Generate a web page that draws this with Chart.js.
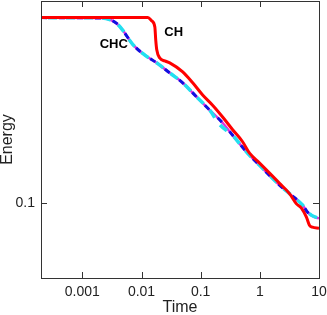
<!DOCTYPE html>
<html>
<head>
<meta charset="utf-8">
<script src="https://cdn.jsdelivr.net/npm/chart.js@4/dist/chart.umd.min.js"></script>
<style>
  html, body { margin: 0; padding: 0; background: #fff; }
  #wrap { width: 327px; height: 315px; }
</style>
</head>
<body>
<div id="wrap"><canvas id="grafico" width="327" height="315"></canvas></div>
<script>
// ---- datos ----
const tiempoCH = [0.0002, 0.0128, 0.0149, 0.0168, 0.0174, 0.0181, 0.0204, 0.0247, 0.030, 0.0497,
  0.0733, 0.108, 0.159, 0.235, 0.347, 0.511, 0.670, 0.99, 1.46, 2.15, 3.17, 4.16, 5.05, 6.13, 6.89, 7.74, 10];
const energiaCH = [0.565, 0.565, 0.548, 0.518, 0.458, 0.418, 0.387, 0.377, 0.370, 0.340,
  0.307, 0.274, 0.249, 0.223, 0.198, 0.177, 0.159, 0.145, 0.132, 0.120, 0.109, 0.099, 0.0952, 0.0874, 0.0811, 0.0796, 0.0789];

const tiempoCHC = [0.0002, 0.0021, 0.0029, 0.0038, 0.0048, 0.0071, 0.0114, 0.0181, 0.030, 0.0497, 0.0856,
  0.142, 0.235, 0.347, 0.511, 0.670, 0.99, 2.15, 3.17, 5.26, 6.37, 8.36, 10];
const energiaCHC = [0.565, 0.563, 0.555, 0.535, 0.503, 0.440, 0.398, 0.370, 0.337, 0.307, 0.269,
  0.238, 0.211, 0.188, 0.168, 0.156, 0.142, 0.118, 0.109, 0.098, 0.0917, 0.0874, 0.0866];

const tiempoCian = [0.0002, 0.0021, 0.0029, 0.0038, 0.0048, 0.0071, 0.0114, 0.0181, 0.030, 0.0497, 0.0856,
  0.142, 0.209, 0.347, 0.511, 0.670, 0.99, 2.15, 3.17, 5.26, 6.13, 7.4, 10];
const energiaCian = [0.565, 0.563, 0.555, 0.535, 0.503, 0.440, 0.398, 0.370, 0.337, 0.307, 0.269,
  0.238, 0.208, 0.188, 0.168, 0.156, 0.142, 0.118, 0.109, 0.098, 0.0934, 0.0891, 0.0866];

// etiquetas dentro del grafico
const etiquetas = ["CH", "CHC"];
const etiquetaTiempo = [0.035, 0.0034];
const etiquetaEnergia = [0.49, 0.438];

const xMin = 0.0002, xMax = 10;
const yMin = 0.0495, yMax = 0.66;

const puntos = (ts, es) => ts.map((t, i) => ({ x: t, y: es[i] }));
const esDecada = (v) => Math.abs(Math.log10(v) - Math.round(Math.log10(v))) < 1e-6;

// marco y marcas hacia adentro, en los cuatro lados
const marcoPlugin = {
  id: "marco",
  afterDraw(chart) {
    const { ctx, chartArea: a, scales } = chart;
    ctx.save();
    ctx.strokeStyle = "#333";
    ctx.lineWidth = 1;
    ctx.strokeRect(a.left + 0.5, a.top + 0.5, a.right - a.left, a.bottom - a.top);
    ctx.beginPath();
    scales.x.ticks.forEach((t) => {
      const px = Math.round(scales.x.getPixelForValue(t.value)) + 0.5;
      const len = esDecada(t.value) ? 6 : 3;
      ctx.moveTo(px, a.bottom); ctx.lineTo(px, a.bottom - len);
      ctx.moveTo(px, a.top); ctx.lineTo(px, a.top + len);
    });
    scales.y.ticks.forEach((t) => {
      const py = Math.round(scales.y.getPixelForValue(t.value)) + 0.5;
      const len = esDecada(t.value) ? 6 : 3;
      ctx.moveTo(a.left, py); ctx.lineTo(a.left + len, py);
      ctx.moveTo(a.right, py); ctx.lineTo(a.right - len, py);
    });
    ctx.stroke();

    ctx.fillStyle = "#000";
    ctx.font = "bold 13px 'Liberation Sans', Arial, sans-serif";
    ctx.textAlign = "center";
    ctx.textBaseline = "middle";
    etiquetas.forEach((txt, i) => {
      ctx.fillText(txt, scales.x.getPixelForValue(etiquetaTiempo[i]), scales.y.getPixelForValue(etiquetaEnergia[i]));
    });
    ctx.restore();
  },
};

new Chart(document.getElementById("grafico"), {
  type: "line",
  data: {
    datasets: [
      {
        label: "CH",
        data: puntos(tiempoCH, energiaCH),
        borderColor: "#ff0000",
        borderWidth: 3,
        cubicInterpolationMode: "monotone",
      },
      {
        label: "CHC azul",
        data: puntos(tiempoCHC, energiaCHC),
        borderColor: "#1010e0",
        borderWidth: 3,
        borderDash: [6, 12],
        cubicInterpolationMode: "monotone",
      },
      {
        label: "CHC cian",
        data: puntos(tiempoCian, energiaCian),
        borderColor: "#22e0f0",
        borderWidth: 3.5,
        borderDash: [9, 9],
        borderDashOffset: 11,
        cubicInterpolationMode: "monotone",
      },
      {
        label: "CHC magenta",
        data: puntos(tiempoCHC, energiaCHC),
        borderColor: "#e030e0",
        borderWidth: 2.5,
        cubicInterpolationMode: "monotone",
      },
    ],
  },
  options: {
    responsive: false,
    animation: false,
    elements: { point: { radius: 0 } },
    layout: { padding: { top: 1, right: 8, left: 0, bottom: 0 } },
    plugins: { legend: { display: false }, tooltip: { enabled: false } },
    scales: {
      x: {
        type: "logarithmic",
        min: xMin,
        max: xMax,
        grid: { display: false, drawTicks: false },
        border: { display: false },
        afterFit: (s) => { s.height = 37; s.paddingLeft = 0; s.paddingRight = 0; },
        ticks: {
          autoSkip: false,
          maxRotation: 0,
          padding: 6,
          color: "#222",
          font: { family: "'Liberation Sans', Arial, sans-serif", size: 14 },
          callback: (v) => (esDecada(v) ? String(+v.toPrecision(3)) : null),
        },
        title: {
          display: true,
          text: "Time",
          color: "#222",
          padding: { top: 0, bottom: -1 },
          font: { family: "'Liberation Sans', Arial, sans-serif", size: 16, lineHeight: 1 },
        },
      },
      y: {
        type: "logarithmic",
        min: yMin,
        max: yMax,
        grid: { display: false, drawTicks: false },
        border: { display: false },
        afterFit: (s) => { s.width = 41; s.paddingTop = 0; s.paddingBottom = 0; },
        ticks: {
          autoSkip: false,
          padding: 6,
          color: "#222",
          font: { family: "'Liberation Sans', Arial, sans-serif", size: 14 },
          callback: (v) => (Math.abs(v - 0.1) < 1e-9 ? "0.1" : null),
        },
        title: {
          display: true,
          text: "Energy",
          color: "#222",
          padding: 0,
          font: { family: "'Liberation Sans', Arial, sans-serif", size: 16, lineHeight: 1 },
        },
      },
    },
  },
  plugins: [marcoPlugin],
});
</script>
</body>
</html>
